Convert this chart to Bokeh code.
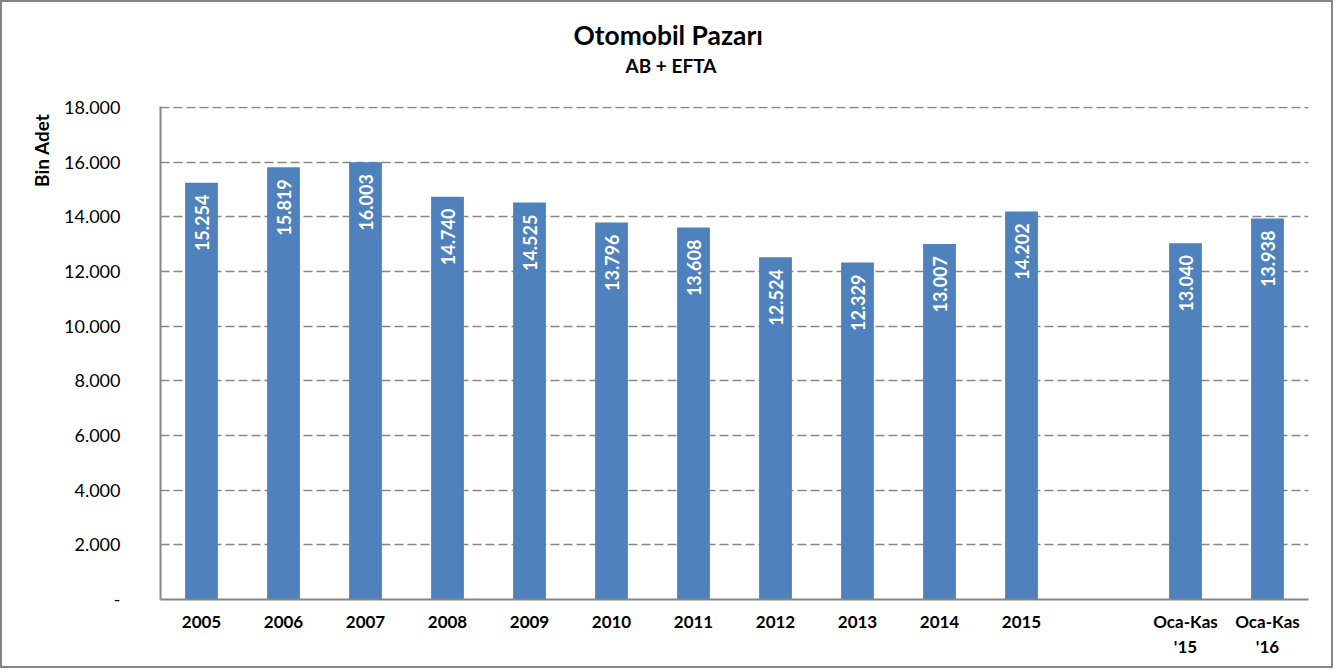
import math
from bokeh.plotting import figure
from bokeh.models import Range1d, FixedTicker, Title, ColumnDataSource
from bokeh.core.properties import value
from bokeh.embed import file_html
from bokeh.resources import INLINE

# ---- data ----
categories = ["2005", "2006", "2007", "2008", "2009", "2010", "2011", "2012",
              "2013", "2014", "2015", "Oca-Kas\n'15", "Oca-Kas\n'16"]
positions = [0, 1, 2, 3, 4, 5, 6, 7, 8, 9, 10, 12, 13]
sales = [15254, 15819, 16003, 14740, 14525, 13796, 13608, 12524,
         12329, 13007, 14202, 13040, 13938]
y_ticks = [0, 2000, 4000, 6000, 8000, 10000, 12000, 14000, 16000, 18000]
y_tick_labels = ["-", "2.000", "4.000", "6.000", "8.000", "10.000",
                 "12.000", "14.000", "16.000", "18.000"]
title_text = "Otomobil Pazarı"
subtitle_text = "AB + EFTA"
y_label = "Bin Adet"

FONT = "Lato"
GRAY = "#868686"
BLUE = "#4F81BD"

W, H = 1333, 668
p = figure(width=W, height=H, output_backend="svg", toolbar_location=None,
           x_range=Range1d(-0.5, 13.5), y_range=Range1d(0, 18040),
           min_border_left=158, min_border_right=27,
           min_border_top=104, min_border_bottom=71)
p.outline_line_color = None
p.background_fill_color = "white"
p.border_fill_color = "white"
p.styles = {"border": f"2px solid {GRAY}"}

src = ColumnDataSource(dict(
    x=positions, top=sales,
    lab=[f"{v:,}".replace(",", ".") for v in sales]))

p.vbar(x="x", top="top", width=0.4, source=src, fill_color=BLUE, line_color=None)

p.text(x="x", y="top", text="lab", source=src, angle=math.pi / 2,
       text_align="right", text_baseline="middle", y_offset=12,
       text_color="white", text_font=value(FONT), text_font_style="bold",
       text_font_size="18px")

# axes
p.xaxis.ticker = FixedTicker(ticks=positions)
p.xaxis.major_label_overrides = {k: v for k, v in zip(positions, categories)}
p.xaxis.major_label_text_font = FONT
p.xaxis.major_label_text_font_style = "bold"
p.xaxis.major_label_text_font_size = "17px"
p.xaxis.major_label_text_color = "black"
p.xaxis.major_label_standoff = 5
p.xaxis.major_tick_line_color = None
p.xaxis.minor_tick_line_color = None
p.xaxis.axis_line_color = GRAY
p.xaxis.axis_line_width = 2

p.yaxis.ticker = FixedTicker(ticks=y_ticks)
p.yaxis.major_label_overrides = {k: v for k, v in zip(y_ticks, y_tick_labels)}
p.yaxis.major_label_text_font = FONT
p.yaxis.major_label_text_font_size = "18px"
p.yaxis.major_label_text_color = "black"
p.yaxis.major_label_standoff = 34
p.yaxis.major_tick_line_color = None
p.yaxis.minor_tick_line_color = None
p.yaxis.axis_line_color = GRAY
p.yaxis.axis_line_width = 2

p.xgrid.grid_line_color = None
p.ygrid.grid_line_color = GRAY
p.ygrid.grid_line_dash = "9 4"
p.ygrid.grid_line_width = 1.5

# titles stacked above the frame (first added = nearest the frame)
p.add_layout(Title(text=" ", text_font=FONT, text_font_size="22px",
                   standoff=0, vertical_align="middle"), "above")
p.add_layout(Title(text=subtitle_text, align="left", offset=465,
                   vertical_align="middle", standoff=0,
                   text_font=FONT, text_font_style="bold",
                   text_font_size="19px", text_color="black"), "above")
p.add_layout(Title(text=title_text, align="left", offset=413,
                   vertical_align="middle", standoff=1,
                   text_font=FONT, text_font_style="bold",
                   text_font_size="26.4px", text_color="black"), "above")
# y axis label as a title on the left, aligned to the top of the frame
p.add_layout(Title(text=y_label, align="right", offset=7,
                   vertical_align="middle", standoff=16,
                   text_font=FONT, text_font_style="bold",
                   text_font_size="19px", text_color="black"), "left")

open("out.html", "w").write(file_html(p, INLINE))
